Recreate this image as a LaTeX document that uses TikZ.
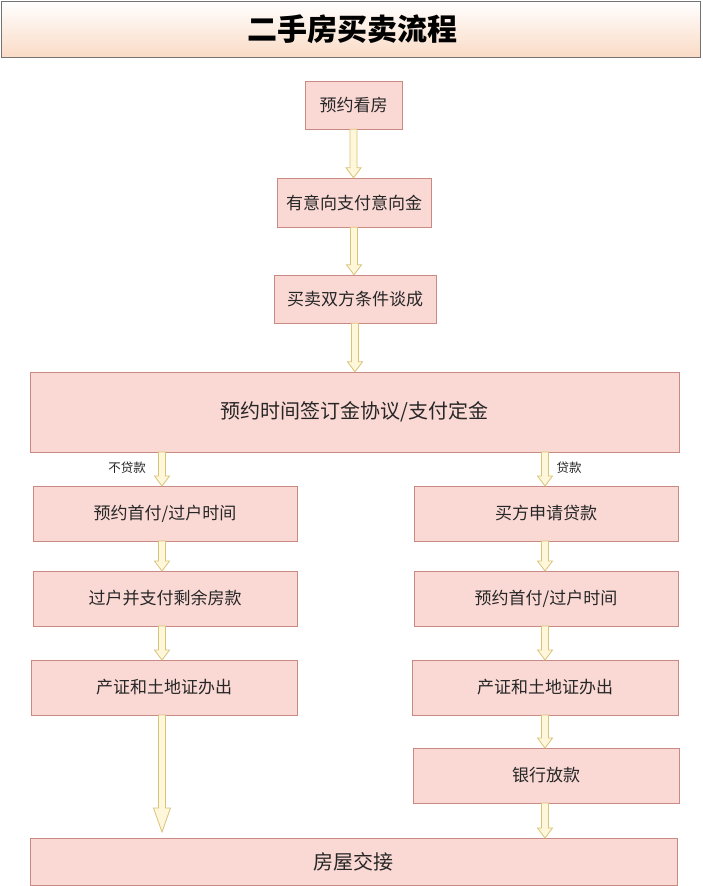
\documentclass[tikz,border=0pt]{standalone}
\usepackage{fontspec}
\setmainfont{Noto Sans CJK SC}
\usetikzlibrary{calc}
\definecolor{boxfill}{HTML}{FAD9D5}
\definecolor{boxdraw}{HTML}{C98A84}
\definecolor{arrfill}{HTML}{FFF7D9}
\definecolor{arrdraw}{HTML}{D9C27A}
\definecolor{titlebot}{HTML}{FADBC6}
\tikzset{
  stepbox/.style={draw=boxdraw, fill=boxfill, line width=0.8pt},
  flexarr/.style={draw=arrdraw, fill=arrfill, line width=0.8pt, line join=miter,
    to path={let \p1=(\tikztostart), \p2=(\tikztotarget) in
      (\x1-3.5pt,\y1) -- (\x1-3.5pt,\y2+10pt) -- (\x1-7.5pt,\y2+10pt) -- (\x1,\y2)
      -- (\x1+7.5pt,\y2+10pt) -- (\x1+3.5pt,\y2+10pt) -- (\x1+3.5pt,\y1) -- cycle}},
  bigarr/.style={draw=arrdraw, fill=arrfill, line width=0.8pt, line join=miter,
    to path={let \p1=(\tikztostart), \p2=(\tikztotarget) in
      (\x1-3.5pt,\y1) -- (\x1-3.5pt,\y2+24pt) -- (\x1-8.5pt,\y2+24pt) -- (\x1,\y2)
      -- (\x1+8.5pt,\y2+24pt) -- (\x1+3.5pt,\y2+24pt) -- (\x1+3.5pt,\y1) -- cycle}},
  lbl/.style={font=\fontsize{12.5}{14}\selectfont, text=black!85}
}
\newcommand{\bx}[7][17]{% [size] name, x1, y1, x2, y2, text
  \path[stepbox] (#3,#4) rectangle (#5,#6);
  \node[font=\fontsize{#1}{#1}\selectfont, text=black!85, inner sep=0pt, minimum width={(#5-#3)*1pt}, minimum height={(#6-#4)*1pt}] (#2) at ({(#3+#5)/2},{(#4+#6)/2}) {#7};}
\begin{document}
\begin{tikzpicture}[x=1pt,y=-1pt]
\useasboundingbox (0,0) rectangle (703,886);
% title
\shade[top color=white, bottom color=titlebot] (1,1) rectangle (700,57);
\draw[draw=black!55, line width=1pt] (1,1) rectangle (700,57);
\node[font=\fontsize{30}{32}\selectfont\bfseries] (title) at (352,29) {二手房买卖流程};
% boxes
\bx{a}{305}{81}{402}{129}{预约看房}
\bx{b}{277}{178}{431}{227}{有意向支付意向金}
\bx{c}{274}{275}{436}{323}{买卖双方条件谈成}
\bx[20]{d}{30}{372}{679}{452}{预约时间签订金协议/支付定金}
\bx{l1}{33}{486}{297}{541}{预约首付/过户时间}
\bx{l2}{33}{571}{297}{626}{过户并支付剩余房款}
\bx{l3}{31}{660}{297}{715}{产证和土地证办出}
\bx{r1}{414}{486}{678}{541}{买方申请贷款}
\bx{r2}{414}{571}{678}{626}{预约首付/过户时间}
\bx{r3}{412}{660}{678}{715}{产证和土地证办出}
\bx{r4}{413}{748}{679}{803}{银行放款}
\bx[20]{e}{30}{838}{677}{885}{房屋交接}
% arrows
\draw[flexarr] (a.south) to (b.north);
\draw[flexarr] (b.south) to (c.north);
\draw[flexarr] (c.south) to (d.north);
\coordinate (dl) at (162,452);
\coordinate (dr) at (545,452);
\coordinate (l1t) at (162,486);
\coordinate (r1t) at (545,486);
\draw[flexarr] (dl) to (l1t);
\draw[flexarr] (dr) to (r1t);
\coordinate (l1b) at (162,541);
\coordinate (l2t) at (162,571);
\coordinate (l2b) at (162,626);
\coordinate (l3t) at (162,660);
\coordinate (l3b) at (162,715);
\coordinate (eL) at (162,832);
\draw[flexarr] (l1b) to (l2t);
\draw[flexarr] (l2b) to (l3t);
\draw[bigarr] (l3b) to (eL);
\coordinate (r1b) at (545,541);
\coordinate (r2t) at (545,571);
\coordinate (r2b) at (545,626);
\coordinate (r3t) at (545,660);
\coordinate (r3b) at (545,715);
\coordinate (r4t) at (545,748);
\coordinate (r4b) at (545,803);
\coordinate (eR) at (545,838);
\draw[flexarr] (r1b) to (r2t);
\draw[flexarr] (r2b) to (r3t);
\draw[flexarr] (r3b) to (r4t);
\draw[flexarr] (r4b) to (eR);
% labels
\node[lbl] (nl) at (127,468) {不贷款};
\node[lbl] (yl) at (569,468) {贷款};
\end{tikzpicture}
\end{document}
